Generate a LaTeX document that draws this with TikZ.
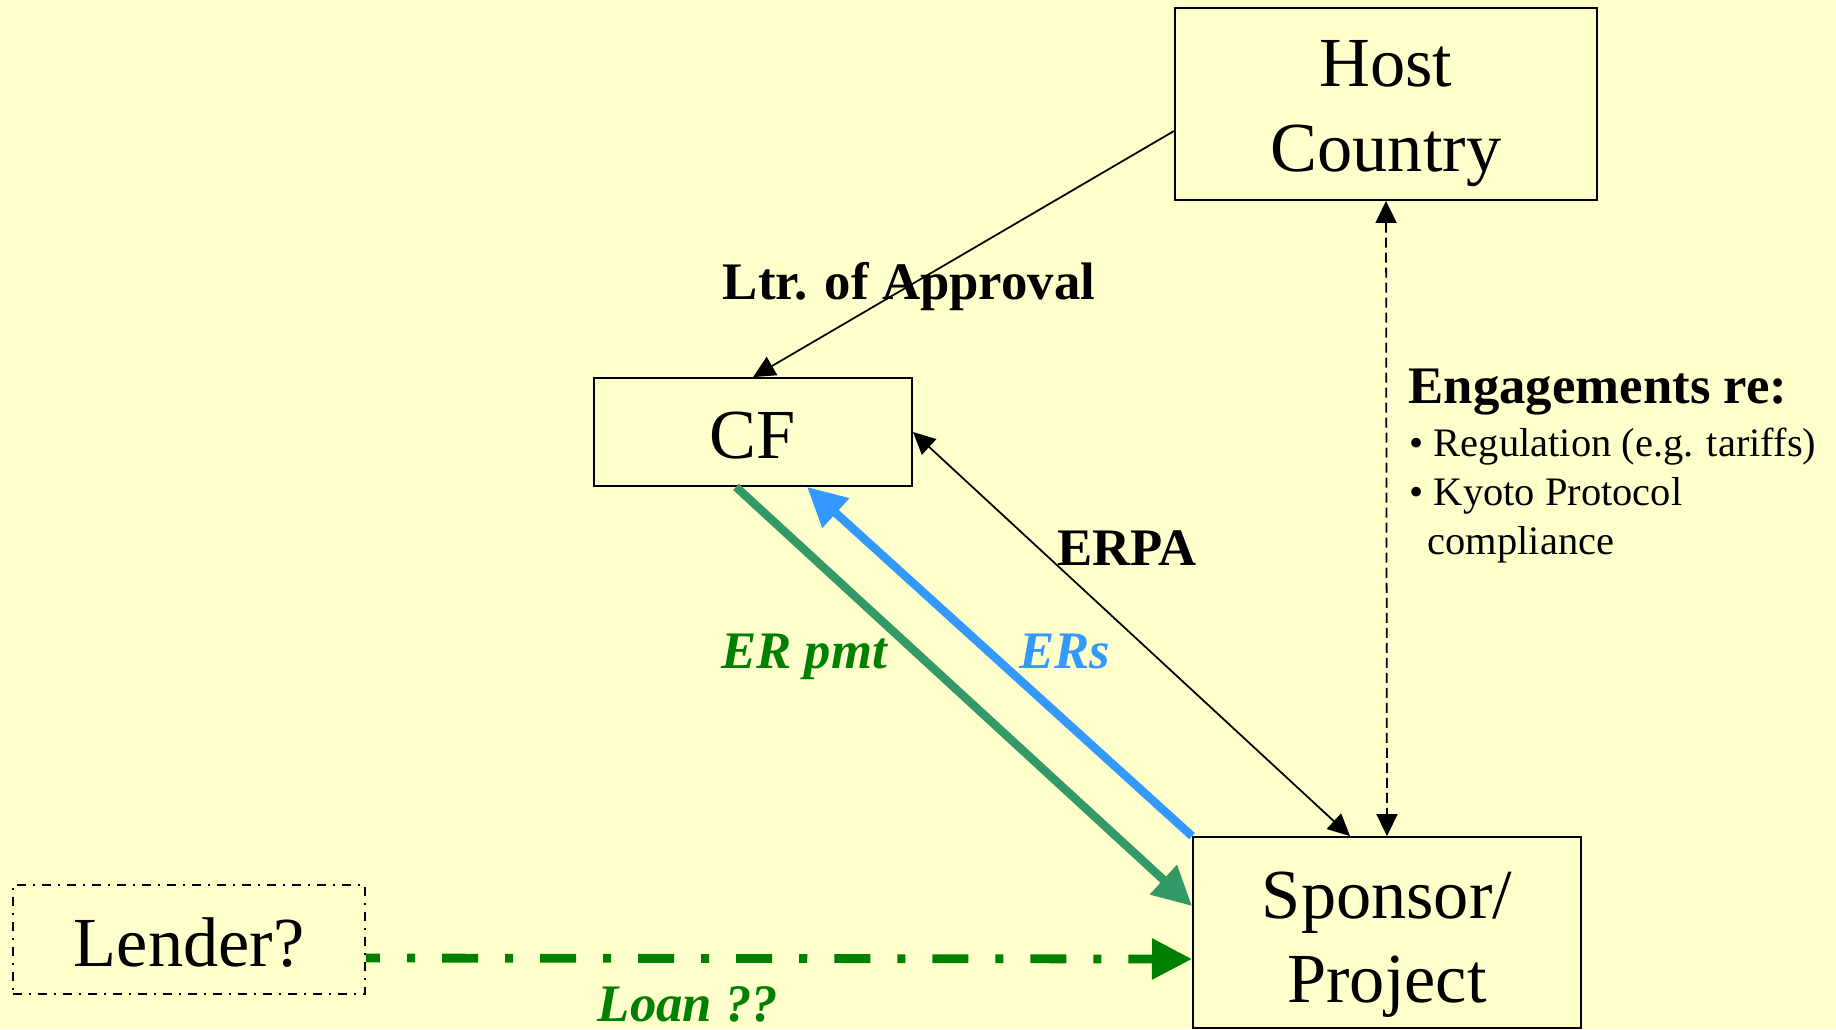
\documentclass[tikz,border=0pt]{standalone}
\usepackage{fontspec}
\setmainfont{Liberation Serif}
\usetikzlibrary{arrows.meta,calc}
\definecolor{paper}{HTML}{FFFFCC}
\definecolor{ergreen}{HTML}{339966}
\definecolor{dkgreen}{HTML}{008000}
\definecolor{erblue}{HTML}{3399FF}
\begin{document}
\begin{tikzpicture}[x=0.01cm,y=-0.01cm,
  >={Triangle[length=0.22cm,width=0.21cm]},
  box/.style={draw,line width=0.5pt,inner sep=0pt,font=\fontsize{20}{24}\selectfont},
  lbl/.style={inner sep=0pt,font=\fontsize{15}{18}\selectfont\bfseries},
  ilbl/.style={inner sep=0pt,font=\fontsize{15}{18}\selectfont\bfseries\itshape},
  link/.style={line width=0.5pt},
  fatarrow/.style={-{Triangle[length=0.39cm,width=0.38cm]}}]
% page background
\fill[paper] (0,0) rectangle (1836,1029);
\useasboundingbox (0,0) rectangle (1836,1029);

% parties
\node[box,minimum width=4.22cm,minimum height=1.92cm,text height=10pt,text depth=19.68pt]
  (host) at (1386,104) {\begin{tabular}[t]{@{}c@{}}Host\\Country\end{tabular}};
\node[box,minimum width=3.18cm,minimum height=1.08cm,text height=14.8pt,text depth=0pt]
  (cf) at (753,432) {CF};
\node[box,minimum width=3.88cm,minimum height=1.91cm,text height=10pt,text depth=18.25pt]
  (sponsor) at (1387,932.5) {\begin{tabular}[t]{@{}c@{}}Sponsor/\\Project\end{tabular}};
\node[box,dash pattern=on 0.09cm off 0.07cm on 0.02cm off 0.07cm,
  minimum width=3.52cm,minimum height=1.09cm,text height=15.08pt,text depth=0pt]
  (lender) at (189,939.5) {Lender?};

% labels
\node[lbl,anchor=base] (ltr) at (909,299) {Ltr. of Approval};
\node[lbl,anchor=base] (erpa) at (1127,565) {ERPA};
\node[ilbl,anchor=base,text=dkgreen] (erpmt) at (804,668) {ER pmt};
\node[ilbl,anchor=base,text=erblue] (ers) at (1064.5,668) {ERs};
\node[lbl,anchor=base west] (eng) at (1408,403) {Engagements re:};
\node[inner sep=0pt,anchor=base west,font=\fontsize{11.5}{14}\selectfont] (englist) at (1409,456)
  {\begin{tabular}[t]{@{}l@{}}• Regulation (e.g. tariffs)\\• Kyoto Protocol\\\hspace{0.18cm}compliance\end{tabular}};
\node[ilbl,anchor=base,text=dkgreen] (loan) at (688,1021) {Loan ??};

% agreements
\draw[link,->] ($(host.west)+(0,27)$) -- (cf.north);
\draw[link,<->] (cf.east) -- ($(sponsor.north)+(-37,0)$);
\draw[link,<->,dash pattern=on 0.1cm off 0.05cm] (host.south) -- (sponsor.north);

% flows
\draw[ergreen,line width=2.4pt,fatarrow] ($(cf.south)+(-17,0)$) -- ($(sponsor.west)+(0,-26.5)$);
\draw[erblue,line width=2.4pt,fatarrow] (sponsor.north west) -- ($(cf.south)+(54,0)$);
\draw[dkgreen,line width=2.5pt,dash pattern=on 0.36cm off 0.27cm on 0.08cm off 0.27cm,dash phase=0.22cm,
  -{Triangle[length=0.40cm,width=0.39cm]}] ($(lender.east)+(0,18.5)$) -- ($(sponsor.west)+(0,26.5)$);
\end{tikzpicture}
\end{document}
